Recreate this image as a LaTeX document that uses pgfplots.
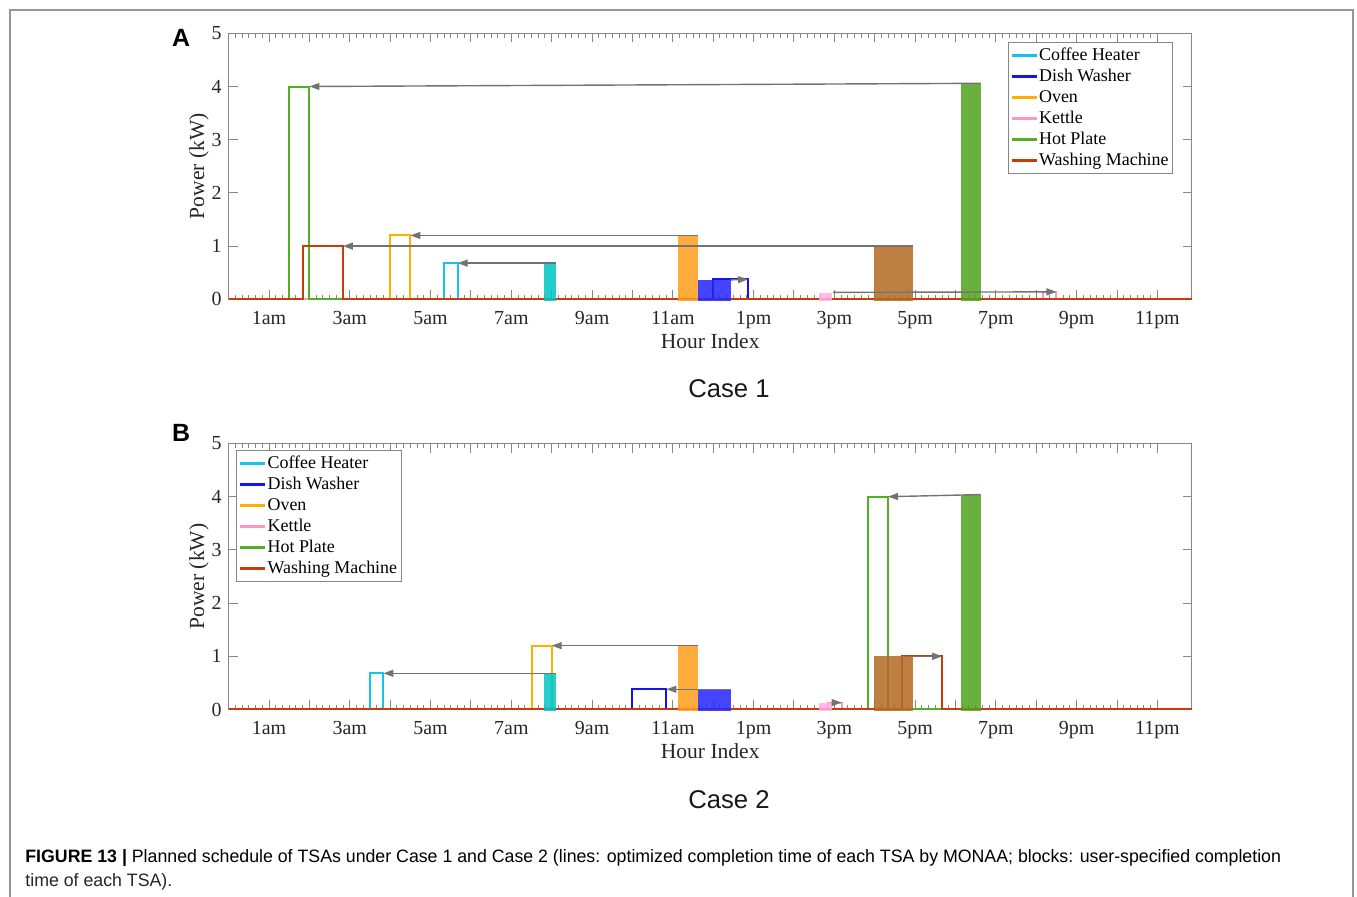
\documentclass[border=0pt]{standalone}
\usepackage{pgfplots}
\pgfplotsset{compat=1.18}
\usetikzlibrary{arrows.meta}
\usepackage{fontspec}
\setmainfont{Liberation Serif}
\newfontfamily\sansf{Liberation Sans}
\definecolor{axgray}{RGB}{135,135,135}
\definecolor{framegray}{RGB}{150,150,150}
\definecolor{arrgray}{RGB}{115,115,115}
\definecolor{cCoffee}{RGB}{20,195,240}
\definecolor{cDish}{RGB}{20,20,240}
\definecolor{cOven}{RGB}{255,175,0}
\definecolor{cKettle}{RGB}{255,150,200}
\definecolor{cHot}{RGB}{85,175,35}
\definecolor{cWash}{RGB}{200,60,10}
\definecolor{bCoffee}{RGB}{0,196,196}
\definecolor{bDish}{RGB}{37,37,255}
\definecolor{bOven}{RGB}{255,157,26}
\definecolor{bKettle}{RGB}{255,178,232}
\definecolor{bWash}{RGB}{178,106,33}
\definecolor{bHot}{RGB}{80,162,28}
\newsavebox\capA
\newlength\capw
\sbox\capA{\sansf\fontsize{9}{11}\selectfont\textbf{FIGURE 13 |} Planned schedule of TSAs under Case 1 and Case 2 (lines: optimized completion time of each TSA by MONAA; blocks: user-specified completion}
\setlength\capw{\wd\capA}
\pgfmathsetmacro\capfac{630.21/\capw}
\tikzset{arr/.style={draw=arrgray, line width=0.7bp, -{Triangle[length=5bp,width=3.5bp]}}}
\pgfplotsset{
  ln/.style={line width=1bp, draw=#1},
  blk/.style={draw=none, fill=#1, fill opacity=0.85, forget plot},
  legend image code/.code={\draw[#1, line width=1.1bp] (0bp,0bp) -- (12.5bp,0bp);},
}
\pgfplotsset{
  schedax/.style={
    scale only axis, width=481.5bp, height=133bp,
    xmin=0, xmax=23.85, ymin=0, ymax=5, clip=false,
    axis line style={draw=axgray, line width=0.5bp},
    tick style={draw=axgray, line width=0.5bp},
    major tick length=4.5bp, minor tick length=2.3bp,
    tick align=inside,
    xtick={0,...,23},
    xticklabels={,1am,,3am,,5am,,7am,,9am,,11am,,1pm,,3pm,,5pm,,7pm,,9pm,,11pm},
    minor x tick num=5,
    ytick={0,...,5},
    /pgf/number format/assume math mode=true,
    tick label style={font=\fontsize{10}{12}\selectfont, text=black!85},
    xticklabel style={anchor=base, yshift=-12.5bp},
    yticklabel style={anchor=east, inner sep=0pt, xshift=-3.3bp},
    xlabel={Hour Index}, ylabel={Power (kW)},
    label style={font=\fontsize{10.8}{13}\selectfont, text=black!85},
    xlabel style={at={(axis description cs:0.5,-0.1568)}, anchor=center},
    ylabel style={at={(axis description cs:-0.0308,0.5)}, anchor=center},
    legend style={draw=axgray, line width=0.5bp, font=\fontsize{9}{10}\selectfont, inner sep=1.2bp, row sep=0pt,
      nodes={inner sep=0.75bp, text height=6.8bp, text depth=2.2bp}},
    legend cell align=left,
    legend entries={Coffee Heater,Dish Washer,Oven,Kettle,Hot Plate,Washing Machine},
  }
}
\begin{document}
\begin{tikzpicture}
\path[use as bounding box] (0,0) rectangle (678.5bp,448.5bp);
\draw[framegray, line width=1bp] (5bp,-2bp) -- (5bp,443.5bp) -- (676.5bp,443.5bp) -- (676.5bp,-2bp);
\node[font=\sansf\bfseries\fontsize{12.5}{14}\selectfont] at (90.5bp,429.5bp) {A};
\node[font=\sansf\bfseries\fontsize{12.5}{14}\selectfont] at (90.5bp,232bp) {B};
\node[font=\sansf\fontsize{12.9}{15}\selectfont, text=black!90] at (364.5bp,254bp) {Case 1};
\node[font=\sansf\fontsize{12.9}{15}\selectfont, text=black!90] at (364.5bp,48.5bp) {Case 2};
\node[anchor=base west, inner sep=0pt, text=black!85] at (12.5bp,17.5bp) {\scalebox{\capfac}[1]{\usebox\capA}};
\node[anchor=base west, inner sep=0pt, text=black!85] at (12.5bp,5.5bp) {\scalebox{\capfac}[1]{\sansf\fontsize{9}{11}\selectfont time of each TSA).}};

% ---------------- Case 1 ----------------
\begin{axis}[schedax, at={(114.35bp,298.85bp)}, anchor=south west,
  legend style={at={(0.9806,0.967)}, anchor=north east}]
\addplot[ln=cCoffee] coordinates {(0,0) (5.33,0) (5.33,0.68) (5.67,0.68) (5.67,0) (23.85,0)};
\addplot[ln=cDish] coordinates {(0,0) (12.0,0) (12.0,0.38) (12.86,0.38) (12.86,0) (23.85,0)};
\addplot[ln=cOven] coordinates {(0,0) (4.0,0) (4.0,1.2) (4.5,1.2) (4.5,0) (23.85,0)};
\addplot[ln=cKettle] coordinates {(0,0) (20.17,0) (20.17,0.13) (20.5,0.13) (20.5,0) (23.85,0)};
\addplot[ln=cHot] coordinates {(0,0) (1.5,0) (1.5,4.0) (2.0,4.0) (2.0,0) (23.85,0)};
\addplot[ln=cWash] coordinates {(0,0) (1.83,0) (1.83,1.0) (2.83,1.0) (2.83,0) (23.85,0)};
% blocks
\addplot[blk=bCoffee] coordinates {(7.8,-0.03) (7.8,0.68) (8.1,0.68) (8.1,-0.03)} -- cycle;
\addplot[blk=bOven] coordinates {(11.12,-0.03) (11.12,1.2) (11.62,1.2) (11.62,-0.03)} -- cycle;
\addplot[blk=bDish] coordinates {(11.62,-0.03) (11.62,0.37) (12.44,0.37) (12.44,-0.03)} -- cycle;
\addplot[blk=bKettle] coordinates {(14.62,-0.03) (14.62,0.12) (14.95,0.12) (14.95,-0.03)} -- cycle;
\addplot[blk=bWash] coordinates {(15.97,-0.03) (15.97,1.0) (16.95,1.0) (16.95,-0.03)} -- cycle;
\addplot[blk=bHot] coordinates {(18.13,-0.03) (18.13,4.06) (18.62,4.06) (18.62,-0.03)} -- cycle;
% arrows
\draw[arr] (axis cs:8.1,0.68) -- (axis cs:5.67,0.68);
\draw[arr] (axis cs:11.62,1.2) -- (axis cs:4.5,1.2);
\draw[arr] (axis cs:16.95,1.0) -- (axis cs:2.83,1.0);
\draw[arr] (axis cs:18.62,4.06) -- (axis cs:2.0,4.0);
\draw[arr] (axis cs:12.44,0.365) -- (axis cs:12.86,0.375);
\draw[arr] (axis cs:14.97,0.13) -- (axis cs:20.5,0.14);
\end{axis}

% ---------------- Case 2 ----------------
\begin{axis}[schedax, at={(114.35bp,93.75bp)}, anchor=south west,
  legend style={at={(0.0076,0.9756)}, anchor=north west}]
\addplot[ln=cCoffee] coordinates {(0,0) (3.5,0) (3.5,0.68) (3.83,0.68) (3.83,0) (23.85,0)};
\addplot[ln=cDish] coordinates {(0,0) (10.0,0) (10.0,0.38) (10.84,0.38) (10.84,0) (23.85,0)};
\addplot[ln=cOven] coordinates {(0,0) (7.5,0) (7.5,1.2) (8.0,1.2) (8.0,0) (23.85,0)};
\addplot[ln=cKettle] coordinates {(0,0) (14.85,0) (14.85,0.13) (15.18,0.13) (15.18,0) (23.85,0)};
\addplot[ln=cHot] coordinates {(0,0) (15.83,0) (15.83,4.0) (16.33,4.0) (16.33,0) (23.85,0)};
\addplot[ln=cWash] coordinates {(0,0) (16.67,0) (16.67,1.0) (17.67,1.0) (17.67,0) (23.85,0)};
% blocks
\addplot[blk=bCoffee] coordinates {(7.8,-0.03) (7.8,0.68) (8.1,0.68) (8.1,-0.03)} -- cycle;
\addplot[blk=bOven] coordinates {(11.12,-0.03) (11.12,1.2) (11.62,1.2) (11.62,-0.03)} -- cycle;
\addplot[blk=bDish] coordinates {(11.62,-0.03) (11.62,0.38) (12.44,0.38) (12.44,-0.03)} -- cycle;
\addplot[blk=bKettle] coordinates {(14.62,-0.03) (14.62,0.12) (14.95,0.12) (14.95,-0.03)} -- cycle;
\addplot[blk=bWash] coordinates {(15.97,-0.03) (15.97,1.0) (16.95,1.0) (16.95,-0.03)} -- cycle;
\addplot[blk=bHot] coordinates {(18.13,-0.03) (18.13,4.04) (18.62,4.04) (18.62,-0.03)} -- cycle;
% arrows
\draw[arr] (axis cs:8.1,0.68) -- (axis cs:3.83,0.68);
\draw[arr] (axis cs:11.62,1.2) -- (axis cs:8.0,1.2);
\draw[arr] (axis cs:12.44,0.38) -- (axis cs:10.84,0.38);
\draw[arr] (axis cs:14.95,0.13) -- (axis cs:15.18,0.13);
\draw[arr] (axis cs:18.62,4.04) -- (axis cs:16.33,4.0);
\draw[arr] (axis cs:16.95,1.0) -- (axis cs:17.67,1.0);
\end{axis}
\end{tikzpicture}
\end{document}
